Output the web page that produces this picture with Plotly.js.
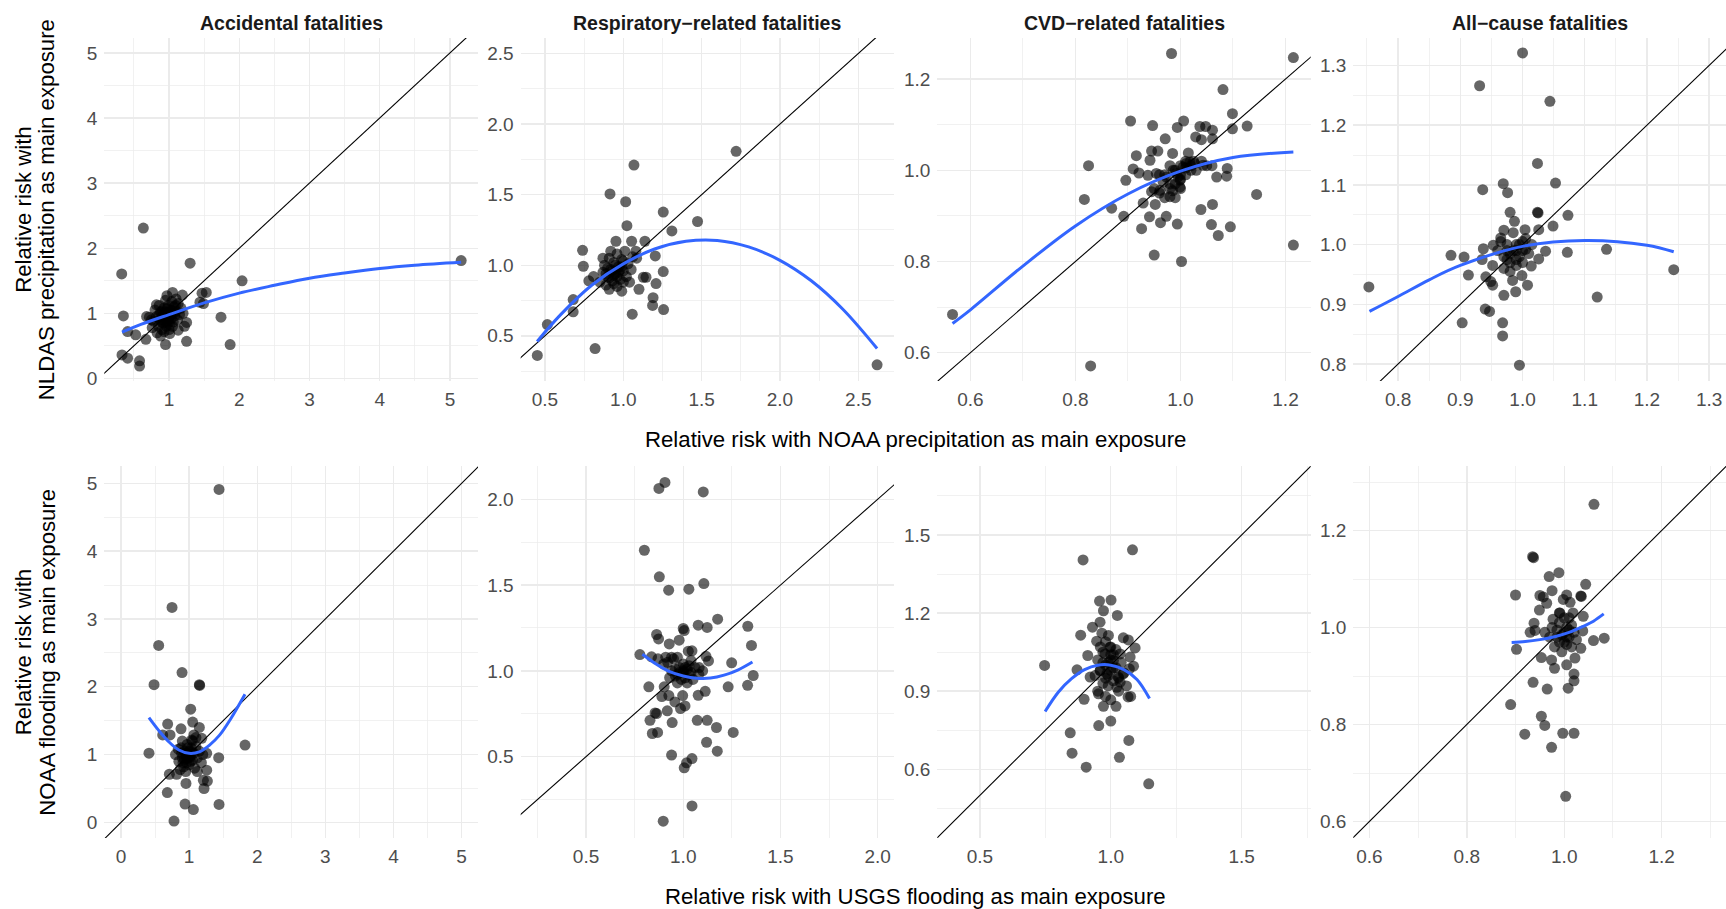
<!DOCTYPE html>
<html><head><meta charset="utf-8">
<script src="https://cdn.plot.ly/plotly-3.0.1.min.js"></script>
<style>html,body{margin:0;padding:0;background:#fff;}#chart{width:1726px;height:909px;}</style>
</head><body><div id="chart"></div>
<script>
// ---------- DATA: [x, y] relative risks ----------
const causes = ["Accidental fatalities", "Respiratory\u2212related fatalities", "CVD\u2212related fatalities", "All\u2212cause fatalities"];

// Top row: x = NOAA precipitation RR, y = NLDAS precipitation RR
const accPrecip = [[0.634,2.31],[0.326,1.605],[1.30,1.77],[2.04,1.50],[5.16,1.81],[0.35,0.96],[1.74,0.94],[1.87,0.52],[1.25,0.57],[0.95,0.52],[0.33,0.36],[0.41,0.31],[0.58,0.27],[0.58,0.19],[0.525,0.67],[0.41,0.72],[0.67,0.60],[1.47,1.31],[1.53,1.32],[1.44,1.17],[1.49,1.15],[1.19,1.28],[1.05,1.32],[0.97,1.27],[1.25,0.86],[1.22,0.80],[1.13,0.74],[1.01,0.69],[0.68,0.95],[0.72,0.94],[0.82,1.13],[0.78,0.88],[0.82,0.95],[0.85,0.80],[0.87,0.90],[0.88,1.02],[0.90,0.75],[0.91,0.85],[0.92,0.97],[0.93,1.08],[0.95,0.92],[0.96,0.80],[0.97,1.00],[0.98,0.88],[0.99,1.12],[1.00,0.95],[1.01,0.83],[1.02,1.05],[1.03,0.92],[1.04,1.18],[1.05,0.99],[1.06,0.87],[1.07,1.10],[1.08,0.96],[1.10,1.03],[1.12,0.90],[1.13,1.15],[1.15,0.98],[1.17,1.08],[1.20,1.00],[0.86,1.12],[0.83,0.70],[0.88,0.65],[0.93,0.72],[0.76,0.78],[0.80,1.05],[1.10,1.22],[0.95,1.20],[1.00,0.75],[0.90,0.95],[1.05,0.80],[0.75,0.90],[0.98,0.98],[1.02,0.98],[0.94,1.02],[0.89,0.87],[0.96,0.94],[1.01,1.01],[0.92,0.90],[0.99,0.86],[1.04,1.04],[0.86,0.98],[0.97,1.07],[1.09,1.12],[0.91,1.04]];
const respPrecip = [[0.451,0.361],[0.515,0.58],[0.68,0.757],[0.68,0.67],[0.74,1.106],[0.745,0.993],[0.82,0.41],[0.915,1.505],[1.015,1.45],[1.068,1.71],[1.023,1.28],[1.72,1.807],[1.255,1.377],[1.31,1.243],[1.474,1.31],[1.204,1.066],[1.255,0.955],[1.209,0.87],[1.19,0.77],[1.187,0.715],[1.257,0.686],[1.057,0.653],[1.10,0.83],[1.128,0.915],[1.145,0.915],[2.62,0.295],[0.953,1.17],[1.053,1.17],[1.138,1.17],[1.085,1.05],[0.99,0.816],[0.91,0.83],[0.78,0.89],[0.81,0.92],[0.85,0.88],[0.87,0.95],[0.88,1.00],[0.89,0.86],[0.90,0.92],[0.91,1.05],[0.92,0.97],[0.93,0.89],[0.94,1.02],[0.95,0.94],[0.96,1.08],[0.97,0.99],[0.98,0.90],[0.99,1.04],[1.00,0.96],[1.01,1.10],[1.02,0.92],[1.03,1.01],[1.04,0.88],[1.06,1.06],[1.08,1.10],[0.92,1.10],[0.96,0.85],[0.87,1.05],[1.00,1.03],[0.94,0.93],[0.97,0.95],[1.00,0.88],[0.90,0.98],[1.05,0.97],[0.93,0.96],[0.95,1.00],[0.98,0.97],[0.91,0.91],[0.96,0.92],[0.99,0.99],[0.94,0.87],[0.89,0.94]];
const cvdPrecip = [[0.566,0.684],[0.829,0.571],[0.825,1.01],[0.817,0.936],[0.983,1.256],[1.215,1.247],[1.215,0.836],[1.081,1.177],[1.099,1.124],[1.099,1.091],[1.127,1.097],[1.145,0.947],[0.905,1.108],[0.947,1.098],[0.994,1.094],[1.006,1.108],[0.971,1.069],[1.037,1.096],[1.048,1.096],[1.061,1.088],[1.029,1.073],[1.04,1.067],[1.061,1.069],[0.945,1.042],[0.957,1.042],[0.985,1.037],[1.015,1.038],[0.916,1.032],[0.942,1.022],[0.91,1.003],[0.921,0.994],[0.896,0.978],[1.069,0.985],[1.088,0.987],[1.089,1.004],[1.043,1.011],[1.061,0.925],[1.039,0.914],[1.059,0.881],[1.072,0.857],[1.095,0.876],[0.994,0.882],[0.962,0.885],[0.973,0.899],[0.941,0.898],[0.926,0.872],[0.892,0.899],[0.869,0.917],[0.929,0.928],[0.952,0.925],[0.95,0.814],[1.002,0.80],[0.945,0.953],[0.961,0.956],[0.98,0.942],[0.999,0.963],[0.992,0.993],[0.973,0.985],[1.011,1.015],[1.018,1.018],[1.027,1.015],[1.005,1.007],[0.986,1.0],[0.967,0.974],[0.954,0.993],[0.938,0.989],[0.999,0.978],[0.97,0.99],[0.98,0.97],[0.99,1.0],[1.0,0.98],[1.0,1.01],[1.01,0.99],[1.02,1.01],[1.03,1.0],[1.04,1.02],[1.05,1.01],[0.96,0.95],[0.97,0.94],[0.98,0.96],[0.99,0.94],[1.0,0.96],[0.95,0.96],[0.96,0.99],[1.01,1.02],[1.02,1.0],[1.06,1.01],[0.98,1.01],[0.99,0.97],[1.0,0.99],[1.01,1.005],[1.025,1.02],[0.995,0.985],[0.985,0.955]];
const allPrecip = [[0.753,0.929],[1.0,1.321],[0.931,1.266],[1.044,1.24],[1.024,1.136],[1.053,1.103],[0.969,1.102],[0.936,1.092],[0.976,1.087],[0.98,1.054],[1.024,1.054],[1.025,1.053],[0.987,1.039],[1.073,1.049],[1.049,1.031],[0.97,1.024],[1.004,1.025],[1.026,1.025],[0.965,1.011],[0.953,0.999],[0.937,0.993],[0.885,0.982],[0.906,0.979],[0.935,0.975],[1.037,0.989],[1.026,0.976],[1.072,0.987],[1.135,0.992],[1.243,0.958],[1.12,0.912],[0.913,0.949],[0.952,0.965],[0.941,0.946],[0.952,0.932],[0.949,0.938],[0.97,0.915],[0.989,0.921],[0.984,0.94],[0.999,0.948],[1.008,0.932],[1.014,0.964],[0.94,0.892],[0.947,0.888],[0.903,0.869],[0.968,0.869],[0.968,0.847],[0.995,0.798],[1.005,0.992],[0.96,0.99],[0.97,0.98],[0.975,1.0],[0.98,0.97],[0.985,0.99],[0.99,1.0],[0.995,0.98],[1.0,0.99],[1.005,1.01],[1.01,0.985],[0.97,0.96],[0.98,0.955],[0.99,0.965],[1.0,0.97],[0.965,1.005],[0.985,1.02],[1.0,1.005],[1.015,1.0],[0.975,0.975],[0.99,0.99],[0.98,0.985],[0.99,0.975],[0.995,1.0],[0.975,0.99]];

// Bottom row: x = USGS flooding RR, y = NOAA flooding RR
const accFlood = [[1.439,4.91],[0.749,3.17],[0.553,2.61],[0.485,2.03],[0.896,2.21],[1.15,2.03],[1.155,2.02],[1.023,1.67],[1.052,1.48],[0.685,1.45],[0.881,1.38],[1.15,1.40],[0.612,1.29],[0.72,1.29],[0.411,1.02],[1.821,1.14],[1.434,0.954],[1.258,0.77],[1.209,0.62],[1.268,0.61],[1.219,0.50],[0.954,0.575],[0.71,0.71],[0.817,0.71],[0.68,0.44],[0.94,0.27],[1.062,0.19],[1.439,0.265],[0.778,0.02],[1.07,1.29],[1.038,1.214],[1.185,1.239],[1.258,1.018],[0.80,1.00],[0.85,0.90],[0.88,1.10],[0.90,0.95],[0.92,0.82],[0.93,1.05],[0.95,1.00],[0.96,0.88],[0.97,1.15],[0.98,0.95],[1.00,1.05],[1.00,0.85],[1.02,0.98],[1.03,1.10],[1.05,0.92],[1.07,1.02],[1.08,0.80],[1.10,1.12],[1.12,0.95],[1.15,1.05],[1.18,0.88],[1.20,1.00],[0.87,0.78],[0.90,1.20],[0.95,0.75],[1.05,1.20],[1.10,1.25],[1.12,0.75],[0.98,1.10],[1.02,0.90],[0.84,1.08],[0.93,0.93],[0.97,1.02],[1.01,0.96],[0.89,1.02],[1.04,1.04],[0.96,0.97],[0.91,0.88]];
const respFlood = [[0.875,2.063],[0.906,2.098],[1.103,2.043],[0.80,1.703],[0.877,1.548],[0.925,1.47],[1.029,1.476],[1.106,1.509],[1.177,1.301],[1.077,1.266],[1.123,1.253],[1.332,1.26],[1.351,1.148],[1.0,1.247],[1.005,1.235],[0.863,1.212],[0.873,1.186],[0.928,1.157],[0.979,1.179],[1.026,1.115],[1.045,1.117],[0.777,1.095],[0.837,1.082],[1.249,1.047],[1.13,1.058],[1.117,1.085],[1.082,1.019],[1.36,0.973],[1.331,0.916],[1.231,0.907],[0.823,0.907],[0.902,0.907],[0.926,0.856],[0.89,0.85],[0.997,0.856],[1.077,0.858],[1.113,0.881],[1.009,0.796],[0.986,0.78],[0.957,0.819],[0.918,0.767],[0.863,0.751],[0.855,0.755],[0.829,0.712],[0.943,0.699],[1.072,0.712],[1.123,0.712],[1.171,0.67],[1.257,0.641],[0.841,0.635],[0.868,0.641],[1.12,0.584],[1.175,0.532],[0.94,0.509],[1.045,0.489],[1.017,0.464],[1.005,0.435],[1.045,0.213],[0.897,0.124],[0.87,1.07],[0.91,1.08],[0.94,1.08],[0.97,1.08],[0.92,1.05],[0.94,1.00],[0.96,0.97],[0.98,1.02],[1.00,0.99],[1.00,1.04],[1.01,0.96],[1.02,1.01],[1.03,0.98],[1.04,1.06],[1.05,0.95],[1.06,1.02],[0.95,1.07],[0.97,0.93],[0.99,0.95],[1.02,0.93],[1.04,0.99],[0.93,0.96],[0.90,1.04],[1.08,0.98],[1.10,1.00],[0.96,1.01],[1.00,1.00],[0.98,0.99],[1.01,1.02],[1.03,1.03],[0.97,0.98]];
const cvdFlood = [[0.747,0.999],[0.894,1.404],[1.083,1.443],[0.957,1.246],[1.001,1.25],[0.972,1.209],[1.025,1.191],[0.959,1.165],[0.93,1.146],[0.885,1.115],[0.946,1.092],[0.966,1.123],[0.991,1.114],[1.048,1.105],[1.067,1.097],[1.093,1.066],[0.912,1.037],[1.074,1.031],[1.087,0.996],[1.071,0.986],[0.871,0.982],[0.921,0.954],[0.898,0.869],[0.953,0.89],[0.972,0.842],[1.02,0.842],[1.0,0.867],[1.076,0.88],[1.066,0.878],[0.954,0.768],[1.0,0.785],[0.845,0.74],[1.069,0.711],[0.852,0.662],[1.033,0.646],[0.906,0.608],[1.145,0.544],[1.036,0.935],[1.023,0.915],[0.985,0.967],[0.959,0.979],[1.01,1.018],[0.978,1.043],[0.997,1.069],[1.036,1.043],[1.048,0.967],[1.029,0.954],[0.95,1.02],[0.96,0.98],[0.97,1.05],[0.98,1.00],[0.99,0.96],[1.00,1.02],[1.00,0.98],[1.01,1.04],[1.02,0.99],[1.03,0.95],[1.04,1.01],[0.97,0.93],[0.99,0.92],[1.01,0.94],[0.94,0.96],[0.96,1.07],[0.98,1.09],[1.00,1.07],[1.02,1.06],[1.05,0.97],[1.06,0.92],[0.95,0.90],[0.98,0.88],[1.03,0.90],[0.99,1.01],[1.01,0.99],[0.97,1.01],[1.0,1.04],[0.98,0.95]];
const allFlood = [[1.061,1.254],[0.935,1.146],[0.937,1.144],[0.989,1.113],[0.969,1.105],[1.044,1.089],[0.975,1.076],[0.9,1.067],[0.95,1.066],[0.957,1.063],[1.005,1.067],[0.998,1.058],[1.034,1.065],[1.035,1.064],[0.964,1.05],[1.012,1.052],[0.949,1.036],[0.991,1.03],[1.018,1.03],[1.039,1.023],[0.977,1.017],[0.938,1.009],[0.93,0.99],[0.94,0.994],[1.038,0.993],[1.06,0.973],[1.082,0.978],[0.902,0.955],[1.034,0.957],[0.953,0.938],[0.974,0.933],[1.022,0.937],[0.98,0.916],[1.005,0.923],[1.02,0.904],[1.02,0.89],[0.936,0.887],[0.965,0.873],[1.008,0.875],[0.89,0.841],[0.953,0.817],[0.96,0.798],[0.919,0.78],[0.997,0.782],[1.02,0.782],[0.974,0.753],[1.003,0.652],[0.975,1.0],[0.985,0.98],[0.99,1.01],[1.0,0.99],[1.0,0.97],[1.005,1.0],[1.01,0.98],[1.015,0.96],[1.02,0.99],[0.995,0.95],[0.98,0.96],[0.97,0.98],[1.01,1.02],[0.99,1.03],[1.025,0.975],[0.96,0.99],[1.0,1.02],[0.985,0.995],[1.005,0.965],[1.015,1.005],[0.995,0.985],[1.005,0.98],[0.99,0.97],[1.01,0.995]];

// Smooth fits: [x, y]
const accPrecipFit  = [[0.33,0.71],[0.6,0.83],[1.0,0.98],[1.5,1.16],[2.0,1.31],[2.5,1.43],[3.0,1.54],[3.5,1.62],[4.0,1.69],[4.5,1.74],[5.16,1.785]];
const respPrecipFit = [[0.45,0.46],[0.6,0.65],[0.8,0.86],[1.0,1.01],[1.2,1.115],[1.4,1.17],[1.6,1.176],[1.8,1.13],[2.0,1.035],[2.2,0.89],[2.4,0.69],[2.62,0.41]];
const cvdPrecipFit  = [[0.566,0.664],[0.6,0.694],[0.7,0.79],[0.8,0.878],[0.9,0.948],[1.0,0.998],[1.1,1.028],[1.215,1.04]];
const allPrecipFit  = [[0.754,0.888],[0.8,0.913],[0.85,0.941],[0.9,0.965],[1.0,0.997],[1.1,1.007],[1.2,0.999],[1.243,0.988]];
const accFloodFit   = [[0.41,1.544],[0.55,1.36],[0.7,1.19],[0.85,1.067],[1.0,1.018],[1.15,1.04],[1.3,1.14],[1.45,1.29],[1.6,1.51],[1.82,1.89]];
const respFloodFit  = [[0.79,1.097],[0.86,1.04],[0.93,0.995],[1.0,0.97],[1.07,0.957],[1.14,0.958],[1.21,0.975],[1.28,1.005],[1.356,1.052]];
const cvdFloodFit   = [[0.749,0.822],[0.8,0.897],[0.85,0.948],[0.9,0.983],[0.95,1.0],[1.0,1.0],[1.05,0.983],[1.1,0.945],[1.148,0.872]];
const allFloodFit   = [[0.892,0.969],[0.92,0.971],[0.95,0.975],[0.98,0.981],[1.01,0.99],[1.04,1.003],[1.06,1.013],[1.081,1.028]];

const identityLine = [-1, 10];

const titleTopY = ["Relative risk with", "NLDAS precipitation as main exposure"];
const titleBotY = ["Relative risk with", "NOAA flooding as main exposure"];
const titleTopX = "Relative risk with NOAA precipitation as main exposure";
const titleBotX = "Relative risk with USGS flooding as main exposure";

// ---------- LAYOUT ----------
const W = 1726, H = 909;
const fx = p => Math.min(1, p / W);
const fy = p => 1 - p / H;
const cols = [[104.3, 478], [520.7, 894], [937.3, 1310.7], [1353.3, 1726]];
const rows = [[38, 381], [466, 838]];

const panels = [
  {pts: accPrecip,  fit: accPrecipFit,  xr:[0.078,5.40],  yr:[-0.04,5.23],  xd:1,   xm:0.5,  yd:1,   ym:0.5,  fmt:'d'},
  {pts: respPrecip, fit: respPrecipFit, xr:[0.345,2.728], yr:[0.18,2.61],   xd:0.5, xm:0.25, yd:0.5, ym:0.25, fmt:'.1f'},
  {pts: cvdPrecip,  fit: cvdPrecipFit,  xr:[0.537,1.248], yr:[0.538,1.29],  xd:0.2, xm:0.1,  yd:0.2, ym:0.1,  fmt:'.1f'},
  {pts: allPrecip,  fit: allPrecipFit,  xr:[0.728,1.327], yr:[0.7715,1.346],xd:0.1, xm:0.05, yd:0.1, ym:0.05, fmt:'.1f'},
  {pts: accFlood,   fit: accFloodFit,   xr:[-0.245,5.24], yr:[-0.23,5.255], xd:1,   xm:0.5,  yd:1,   ym:0.5,  fmt:'d'},
  {pts: respFlood,  fit: respFloodFit,  xr:[0.164,2.084], yr:[0.026,2.194], xd:0.5, xm:0.25, yd:0.5, ym:0.25, fmt:'.1f'},
  {pts: cvdFlood,   fit: cvdFloodFit,   xr:[0.337,1.764], yr:[0.336,1.765], xd:0.5, xm:0.25, yd:0.3, ym:0.15, fmt:'.1f'},
  {pts: allFlood,   fit: allFloodFit,   xr:[0.567,1.332], yr:[0.566,1.333], xd:0.2, xm:0.1,  yd:0.2, ym:0.1,  fmt:'.1f'}
];

const FONT = "Liberation Sans, Arial, Helvetica, sans-serif";
const GRID = '#EBEBEB';
const traces = [];
const layout = {
  width: W, height: H, margin: {l:0, r:0, t:0, b:0},
  paper_bgcolor: '#fff', plot_bgcolor: '#fff', showlegend: false,
  font: {family: FONT, color: '#000'},
  annotations: []
};

panels.forEach((p, i) => {
  const n = i + 1, r = Math.floor(i / 4), c = i % 4;
  const xa = 'xaxis' + (n === 1 ? '' : n), ya = 'yaxis' + (n === 1 ? '' : n);
  const xs = 'x' + (n === 1 ? '' : n), ys = 'y' + (n === 1 ? '' : n);
  const common = {
    showline: false, zeroline: false, ticks: '', showgrid: true,
    gridcolor: GRID, gridwidth: 1.4, tickformat: p.fmt,
    tickfont: {family: FONT, size: 19, color: '#4D4D4D'},
    fixedrange: true
  };
  layout[xa] = Object.assign({}, common, {
    domain: [fx(cols[c][0]), fx(cols[c][1])], range: p.xr, anchor: ys,
    tick0: 0, dtick: p.xd, ticklabelstandoff: 5,
    minor: {tick0: 0, dtick: p.xm, showgrid: true, gridcolor: GRID, gridwidth: 0.7}
  });
  layout[ya] = Object.assign({}, common, {
    domain: [fy(rows[r][1]), fy(rows[r][0])], range: p.yr, anchor: xs,
    tick0: 0, dtick: p.yd, ticklabelstandoff: 6,
    minor: {tick0: 0, dtick: p.ym, showgrid: true, gridcolor: GRID, gridwidth: 0.7}
  });
  traces.push({
    type: 'scatter', mode: 'markers', xaxis: xs, yaxis: ys,
    x: p.pts.map(d => d[0]), y: p.pts.map(d => d[1]),
    marker: {size: 11, color: 'rgba(0,0,0,0.6)', line: {width: 0}},
    hoverinfo: 'x+y'
  });
  traces.push({
    type: 'scatter', mode: 'lines', xaxis: xs, yaxis: ys,
    x: identityLine, y: identityLine,
    line: {color: '#000', width: 1.1}, hoverinfo: 'skip'
  });
  traces.push({
    type: 'scatter', mode: 'lines', xaxis: xs, yaxis: ys,
    x: p.fit.map(d => d[0]), y: p.fit.map(d => d[1]),
    line: {color: '#3366FF', width: 3, shape: 'spline', smoothing: 1}, hoverinfo: 'skip'
  });
});

// facet titles
causes.forEach((t, c) => {
  layout.annotations.push({
    text: '<b>' + t + '</b>', xref: 'paper', yref: 'paper',
    x: fx((cols[c][0] + cols[c][1]) / 2), y: fy(23.3), xanchor: 'center', yanchor: 'middle',
    showarrow: false, font: {family: FONT, size: 19.5, color: '#1A1A1A'}
  });
});
// x titles
[[titleTopX, 439], [titleBotX, 896.5]].forEach(([t, yp]) => {
  layout.annotations.push({
    text: t, xref: 'paper', yref: 'paper', x: fx(915.5), y: fy(yp),
    xanchor: 'center', yanchor: 'middle', showarrow: false,
    font: {family: FONT, size: 22.2, color: '#000'}
  });
});
// y titles
[[titleTopY, 209.5], [titleBotY, 652]].forEach(([lines, yp]) => {
  [23.3, 46.7].forEach((xp, k) => {
    layout.annotations.push({
      text: lines[k], xref: 'paper', yref: 'paper', x: fx(xp), y: fy(yp),
      xanchor: 'center', yanchor: 'middle', textangle: -90, showarrow: false,
      font: {family: FONT, size: 22.2, color: '#000'}
    });
  });
});

Plotly.newPlot('chart', traces, layout, {displayModeBar: false, staticPlot: true});
</script></body></html>
